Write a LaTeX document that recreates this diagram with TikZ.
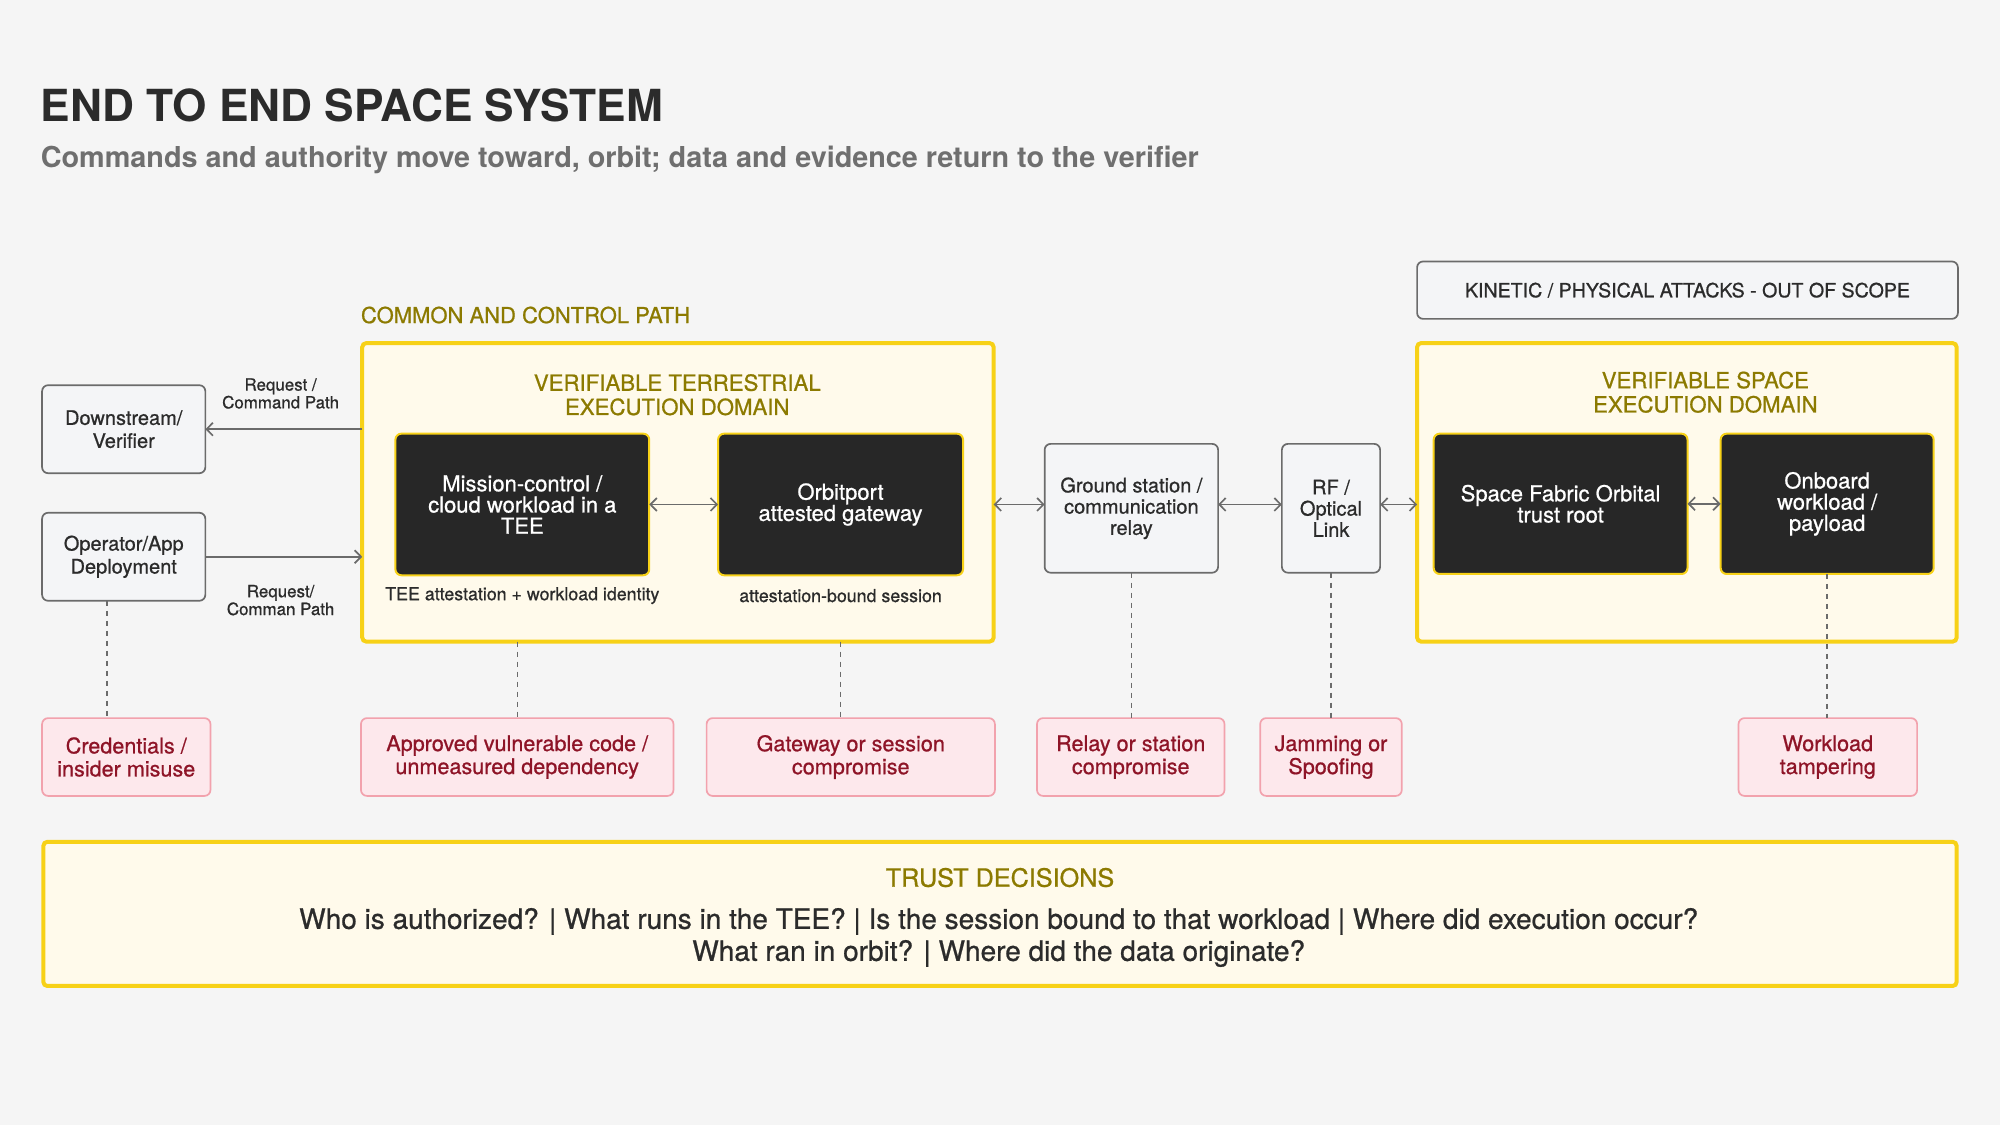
\documentclass[tikz,border=0pt]{standalone}
\usepackage{fontspec}
\setmainfont{TeX Gyre Heros}
\setsansfont{TeX Gyre Heros}
\newfontfamily\medf[FakeBold=0.8]{TeX Gyre Heros}
\usetikzlibrary{arrows.meta}
\definecolor{bg}{HTML}{F5F5F5}
\definecolor{olive}{HTML}{8C7A00}
\definecolor{ylw}{HTML}{F7D117}
\definecolor{cream}{HTML}{FFFAEB}
\definecolor{blk}{HTML}{272727}
\definecolor{gbox}{HTML}{F4F5F7}
\definecolor{gline}{HTML}{6B6B6B}
\definecolor{pinkf}{HTML}{FDE8EC}
\definecolor{pinkl}{HTML}{F2A2AD}
\definecolor{redt}{HTML}{8E1427}
\definecolor{dark}{HTML}{2B2B2B}
\definecolor{subg}{HTML}{6F6F6F}
\begin{document}
\begin{tikzpicture}[x=0.63776pt,y=-0.63776pt,
  sz/.style 2 args={minimum width=#1*0.63776pt, minimum height=#2*0.63776pt},
  nb/.style={inner sep=0pt, outer sep=0pt, align=center},
  graybox/.style={nb, draw=gline, line width=0.85pt, fill=gbox, rounded corners=3pt, text=dark},
  domainbox/.style={nb, draw=ylw, line width=2pt, fill=cream, rounded corners=2pt},
  blackbox/.style={nb, draw=ylw, line width=1pt, fill=blk, rounded corners=3pt, text=white, font=\medf\fontsize{11}{10.6}\selectfont},
  threat/.style={nb, draw=pinkl, line width=0.85pt, fill=pinkf, rounded corners=3pt, text=redt, font=\medf\fontsize{10.8}{11.5}\selectfont},
  bt/.tip={Straight Barb[length=3.2pt,width=6.5pt,line width=0.85pt]},
  arr/.style={draw=gline, line width=0.85pt, -bt},
  darr/.style={draw=gline, line width=0.85pt, bt-bt},
  dline/.style={draw=gline, line width=0.7pt, dash pattern=on 2.5pt off 2.5pt},
  olivetxt/.style={nb, text=olive},
  lbl/.style={nb, text=dark}
]
\fill[bg] (0,0) rectangle (1568,882);
\useasboundingbox (0,0) rectangle (1568,882);

% titles
\node[nb, anchor=base west, text=dark, font=\fontsize{22.1}{24}\selectfont\bfseries] (title) at (32,95) {END TO END SPACE SYSTEM};
\node[nb, anchor=base west, text=subg, font=\fontsize{14.4}{16}\selectfont\bfseries] (subtitle) at (32,131) {Commands and authority move toward, orbit; data and evidence return to the verifier};
\node[olivetxt, anchor=west, font=\medf\fontsize{11}{12}\selectfont] (ccp) at (283,247) {COMMON AND CONTROL PATH};

% domains
\node[domainbox, sz={495}{234}] (terr) at (531.5,386) {};
\node[domainbox, sz={423}{234}] (space) at (1322.5,386) {};
\node[olivetxt, font=\medf\fontsize{11.1}{12.1}\selectfont] (terrt) at (531,309.5) {VERIFIABLE TERRESTRIAL\\EXECUTION DOMAIN};
\node[olivetxt, font=\medf\fontsize{11.1}{12.1}\selectfont] (spacet) at (1337,307.5) {VERIFIABLE SPACE\\EXECUTION DOMAIN};

% kinetic
\node[graybox, sz={424}{45}, font=\medf\fontsize{9.8}{11}\selectfont] (kin) at (1323,227.5) {KINETIC / PHYSICAL ATTACKS - OUT OF SCOPE};

% left boxes
\node[graybox, sz={128}{69}, font=\medf\fontsize{10}{11.5}\selectfont] (dsv) at (97,336.5) {Downstream/\\Verifier};
\node[graybox, sz={128}{69}, font=\medf\fontsize{10}{11.5}\selectfont] (opa) at (97,436.5) {Operator/App\\Deployment};

% black boxes
\node[blackbox, sz={199}{111}] (mc) at (409.5,395.5) {Mission-control /\\cloud workload in a\\TEE};
\node[blackbox, sz={192}{111}] (og) at (659,395.5) {Orbitport\\attested gateway};
\node[blackbox, sz={199}{110}] (sf) at (1223.5,395) {Space Fabric Orbital\\trust root};
\node[blackbox, sz={167}{110}] (ob) at (1432.5,395) {Onboard\\workload /\\payload};

% captions
\node[lbl, font=\medf\fontsize{8.9}{10}\selectfont] (cap1) at (409.5,467) {TEE attestation + workload identity};
\node[lbl, font=\medf\fontsize{8.9}{10}\selectfont] (cap2) at (659,467) {attestation-bound session};

% middle boxes
\node[graybox, sz={136}{101}, font=\medf\fontsize{10}{10.6}\selectfont] (gs) at (887,398.5) {Ground station /\\communication\\relay};
\node[graybox, sz={77}{101}, font=\medf\fontsize{10}{10.6}\selectfont] (rf) at (1043.5,398.5) {RF /\\Optical\\Link};

% request labels
\node[lbl, font=\medf\fontsize{8.45}{8.9}\selectfont] (req1) at (220,308.5) {Request /\\Command Path};
\node[lbl, font=\medf\fontsize{8.45}{8.9}\selectfont] (req2) at (220,470.5) {Request/\\Comman Path};

% threats
\node[threat, sz={132}{61}] (t1) at (99,593.5) {Credentials /\\insider misuse};
\node[threat, sz={245}{61}] (t2) at (405.5,593.5) {Approved vulnerable code /\\unmeasured dependency};
\node[threat, sz={226}{61}] (t3) at (667,593.5) {Gateway or session\\compromise};
\node[threat, sz={147}{61}] (t4) at (886.5,593.5) {Relay or station\\compromise};
\node[threat, sz={111}{61}] (t5) at (1043.5,593.5) {Jamming or\\Spoofing};
\node[threat, sz={140}{61}] (t6) at (1433,593.5) {Workload\\tampering};

% trust decisions
\node[domainbox, sz={1500}{113}] (trust) at (784,716.5) {};
\node[olivetxt, font=\medf\fontsize{12.6}{14}\selectfont] (trustt) at (784,688) {TRUST DECISIONS};
\node[lbl, font=\medf\fontsize{14}{16}\selectfont] (trustq) at (783,735) {Who is authorized? | What runs in the TEE? | Is the session bound to that workload | Where did execution occur?\\What ran in orbit? | Where did the data originate?};

% connectors
\draw[arr] (terr.west |- dsv.east) -- (dsv.east);
\draw[arr] (opa.east) -- (terr.west |- opa.east);
\draw[darr] (mc.east) -- (og.west);
\draw[darr] (terr.east |- mc.east) -- (gs.west |- mc.east);
\draw[darr] (gs.east |- mc.east) -- (rf.west |- mc.east);
\draw[darr] (rf.east |- mc.east) -- (space.west |- mc.east);
\draw[darr] (sf.east) -- (ob.west);

% dashed threat links
\coordinate (c1) at (84,471);
\draw[dline] (c1 |- opa.south) -- (c1 |- t1.north);
\draw[dline] (t2.north |- terr.south) -- (t2.north);
\draw[dline] (og.south |- terr.south) -- (og.south |- t3.north);
\draw[dline] (gs.south) -- (gs.south |- t4.north);
\draw[dline] (rf.south) -- (rf.south |- t5.north);
\draw[dline] (ob.south) -- (ob.south |- t6.north);
\end{tikzpicture}
\end{document}
